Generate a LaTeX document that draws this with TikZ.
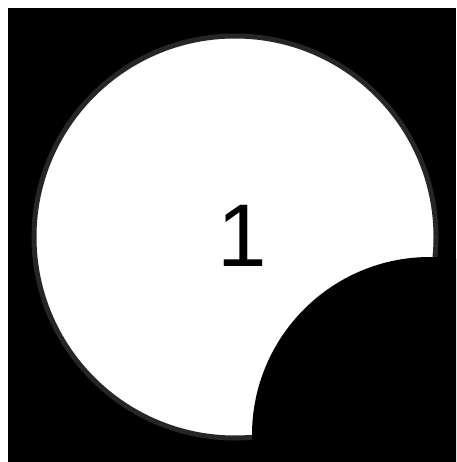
\documentclass[tikz,border=0pt]{standalone}
\usepackage{fontspec}
\setmainfont{Liberation Sans}
\definecolor{rimgray}{HTML}{262626}
\tikzset{
  disc/.style={circle, draw=rimgray, line width=5pt, fill=white, inner sep=0pt, minimum size=402pt},
  bite/.style={circle, fill=black, inner sep=0pt, minimum size=356pt},
  numlabel/.style={inner sep=0pt, font=\fontsize{89}{89}\selectfont, text=black}
}
\begin{document}
\begin{tikzpicture}[x=1pt,y=-1pt]
  \useasboundingbox (0,0) rectangle (456,462);
  \fill[white] (0,0) rectangle (456,462);
  \fill[black] (8,8) rectangle (456,462);
  \node[disc] (main) at (235,237) {};
  \begin{scope}
    \clip (8,8) rectangle (456,462);
    \node[bite] (cut) at (430,435) {};
  \end{scope}
  \node[numlabel] (lbl) at (242,236) {1};
\end{tikzpicture}
\end{document}
